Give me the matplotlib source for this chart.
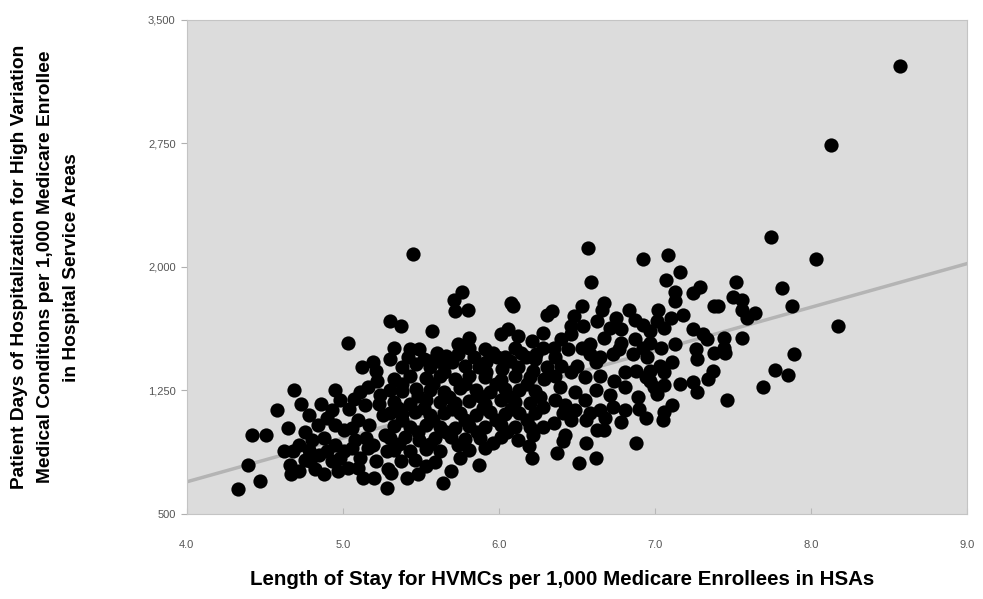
import matplotlib
matplotlib.use("Agg")
import matplotlib.pyplot as plt
from matplotlib.ticker import FuncFormatter

plt.rcParams['font.family'] = ['Liberation Sans Narrow', 'Liberation Sans', 'DejaVu Sans']

# --- data (length of stay, patient days) ---
outlier_x = [8.57, 8.13, 8.03, 7.74, 8.17, 7.88, 7.81, 7.52, 7.89, 7.77, 7.85, 7.69, 7.46]
outlier_y = [3220, 2740, 2050, 2180, 1640, 1760, 1870, 1910, 1470, 1375, 1345, 1270, 1190]

right_x = [7.50, 7.56, 7.56, 7.64, 7.59, 7.40, 7.44, 7.56, 7.44, 7.45, 7.24, 7.34, 7.27,
           7.11, 7.06, 7.05, 6.94, 6.88, 6.97, 7.01, 7.06, 7.33]
right_y = [1820, 1800, 1740, 1720, 1690, 1760, 1570, 1570, 1510, 1480, 1300, 1320, 1240,
           1160, 1120, 1070, 1080, 930, 1310, 1230, 1360, 1560]

upper_mid_x = [6.57, 6.92, 7.08, 7.16, 7.07, 6.59, 7.29, 7.24, 7.13, 7.13, 7.38, 6.34, 6.53,
               6.67, 6.66, 6.83, 7.02, 7.18, 7.10, 7.06, 7.01, 6.87, 6.92, 6.46, 6.54, 6.63,
               6.71, 6.46, 6.67, 7.24, 7.31, 6.78, 6.87, 6.53, 7.04, 6.35, 6.36, 6.92, 6.86,
               7.26, 7.27, 7.38, 6.65, 6.73, 6.50, 6.62, 7.03, 7.11, 6.88, 7.37,
               6.40, 6.44, 6.58, 6.77, 6.95, 6.48, 6.75, 6.40]
upper_mid_y = [2115, 2050, 2070, 1970, 1920, 1910, 1880, 1840, 1850, 1790, 1760, 1730, 1760,
               1780, 1740, 1740, 1740, 1710, 1690, 1630, 1670, 1680, 1650, 1640, 1640, 1670,
               1630, 1590, 1570, 1620, 1590, 1540, 1560, 1510, 1510, 1510, 1450, 1510, 1470,
               1500, 1440, 1480, 1450, 1470, 1400, 1420, 1400, 1420, 1370, 1370,
               1560, 1500, 1470, 1500, 1450, 1700, 1690, 1400]

lower_mid_x = [6.42, 6.41, 6.37, 6.56, 6.51, 6.62, 6.63, 6.67, 6.73, 6.58, 6.56, 6.41, 6.35,
               6.89, 6.99, 6.36, 6.46, 6.55, 6.65, 6.74, 6.81, 6.94, 6.39, 6.49, 6.62, 6.71,
               6.81, 6.36, 6.55, 6.97, 6.42, 6.49, 6.65, 6.81, 6.90, 6.46, 6.68, 6.78, 7.06,
               7.16, 6.58, 6.97, 7.13, 6.78, 6.97]
lower_mid_y = [980, 940, 870, 930, 810, 840, 1010, 1010, 1150, 1110, 1070, 1110, 1050,
               1210, 1270, 1340, 1360, 1330, 1340, 1310, 1360, 1330, 1270, 1240, 1250, 1220,
               1270, 1190, 1190, 1370, 1160, 1130, 1130, 1130, 1140, 1070, 1080, 1060, 1280,
               1290, 1530, 1540, 1530, 1620, 1610]

center_x = [5.45, 5.76, 5.71, 5.72, 5.80, 6.08, 6.09, 5.30, 5.37, 5.57, 5.81, 5.74, 6.01,
            6.06, 6.12, 6.21, 6.28, 6.31, 5.49, 5.60, 5.38, 5.47, 5.70, 5.78, 5.87, 5.99,
            6.04, 6.17, 6.28, 6.31, 6.12, 5.92, 5.65, 5.56, 5.33, 5.43, 5.81, 5.91, 6.10,
            5.30, 5.56, 6.07, 6.23, 5.03, 5.19, 5.12, 5.21,
            5.66, 5.84, 5.96, 6.14, 6.24, 5.74, 5.92, 6.02, 6.22, 5.42, 5.52, 5.63]
center_y = [2080, 1850, 1800, 1730, 1740, 1780, 1760, 1670, 1640, 1610, 1570, 1530, 1590,
            1620, 1580, 1550, 1600, 1710, 1500, 1480, 1390, 1410, 1420, 1400, 1390, 1450,
            1450, 1450, 1510, 1390, 1390, 1420, 1360, 1390, 1510, 1500, 1510, 1500, 1510,
            1440, 1430, 1430, 1440, 1540, 1420, 1390, 1370,
            1460, 1450, 1480, 1480, 1470, 1470, 1360, 1380, 1370, 1450, 1440, 1420]

left_x = [4.69, 4.73, 4.58, 4.95, 4.42, 4.51, 4.65, 4.62, 4.39, 4.47, 4.33, 4.67, 5.13, 5.28,
          4.72, 4.76, 4.72, 4.80, 4.84, 4.90, 4.88, 4.85, 4.82, 4.95, 4.93, 5.01, 5.01, 5.03,
          5.08, 5.11, 5.10, 5.04, 5.14, 5.17, 5.19, 5.21, 5.24, 5.26, 5.27, 5.28, 5.29, 5.16,
          5.11, 5.22,
          4.78, 4.93, 4.98, 4.76, 4.95, 5.06, 4.68, 4.78, 4.90, 5.06, 5.15, 4.66, 4.79, 4.98,
          5.16, 4.88, 4.97, 5.10, 5.20, 5.07, 5.23, 4.86]
left_y = [1250, 1170, 1130, 1250, 980, 980, 1020, 880, 800, 700, 650, 740, 720, 660,
          920, 830, 760, 950, 1040, 1080, 960, 860, 770, 920, 820, 1010, 880, 780,
          950, 840, 1070, 1140, 1160, 1040, 920, 820, 1220, 1100, 980, 880, 770, 1270,
          1240, 1310,
          1100, 1130, 1190, 1000, 1040, 1020, 880, 890, 880, 900, 960, 800, 820, 840,
          900, 740, 760, 780, 720, 1200, 1170, 1170]

bottom_x = [6.21, 5.87, 5.75, 5.69, 5.64, 5.41, 5.48, 5.31, 5.53, 5.91, 6.12, 6.19, 6.28]
bottom_y = [840, 800, 840, 760, 690, 720, 740, 750, 790, 900, 950, 910, 1030]

core_x = [5.33, 5.43, 5.53, 5.62, 5.72, 5.81, 5.91, 6.01, 6.10, 6.20, 6.29,
          5.30, 5.38, 5.47, 5.56, 5.65, 5.75, 5.85, 5.94, 6.04, 6.13, 6.23,
          5.33, 5.43, 5.53, 5.62, 5.72, 5.81, 5.91, 6.01, 6.10, 6.20,
          5.30, 5.38, 5.46, 5.56, 5.65, 5.75, 5.85, 5.94, 6.04, 6.13, 6.23,
          5.33, 5.43, 5.53, 5.62, 5.72, 5.81, 5.91, 6.01, 6.10, 6.20,
          5.30, 5.40, 5.49, 5.59, 5.69, 5.78, 5.88, 6.01,
          5.33, 5.43, 5.53, 5.62, 5.81,
          5.37, 5.46, 5.59,
          5.38, 5.58, 5.78, 5.98, 6.18, 5.48, 5.68, 5.88, 6.06, 6.26,
          5.35, 5.52, 5.70, 5.90, 6.08, 6.28, 5.38, 5.58, 5.78, 5.98, 6.18,
          5.48, 5.66, 5.86, 6.05, 6.22, 5.36, 5.56, 5.74, 5.96]
core_y = [1320, 1340, 1325, 1335, 1320, 1340, 1330, 1315, 1340, 1330, 1320,
          1255, 1245, 1260, 1250, 1240, 1265, 1250, 1240, 1260, 1250, 1245,
          1180, 1170, 1190, 1180, 1175, 1185, 1170, 1190, 1180, 1175,
          1110, 1105, 1120, 1100, 1115, 1110, 1100, 1120, 1105, 1110, 1115,
          1035, 1025, 1040, 1030, 1020, 1035, 1030, 1040, 1025, 1030,
          960, 965, 950, 960, 970, 955, 960, 965,
          890, 880, 895, 885, 890,
          820, 825, 815,
          1290, 1290, 1290, 1290, 1290, 1215, 1210, 1215, 1215, 1210,
          1145, 1145, 1140, 1145, 1140, 1150, 1070, 1070, 1070, 1070, 1070,
          995, 995, 995, 995, 980, 925, 925, 920, 930]

# trend line end points
trend_x = [4.0, 9.0]
trend_y = [695, 2020]

xs = outlier_x + right_x + upper_mid_x + lower_mid_x + center_x + left_x + bottom_x + core_x
ys = outlier_y + right_y + upper_mid_y + lower_mid_y + center_y + left_y + bottom_y + core_y

fig = plt.figure(figsize=(9.83, 5.99), dpi=100)
ax = fig.add_axes([0.190, 0.142, 0.794, 0.825])
ax.set_facecolor('#dcdcdc')

ax.plot(trend_x, trend_y, color='#b4b4b4', lw=2.5, zorder=1)
ax.scatter(xs, ys, s=105, color='black', linewidths=0, zorder=2)

ax.set_xlim(4.0, 9.0)
ax.set_ylim(500, 3500)
ax.set_xticks([4.0, 5.0, 6.0, 7.0, 8.0, 9.0])
ax.set_yticks([500, 1250, 2000, 2750, 3500])
ax.xaxis.set_major_formatter(FuncFormatter(lambda v, p: f'{v:.1f}'))
ax.yaxis.set_major_formatter(FuncFormatter(lambda v, p: f'{int(v):,}'))

for s in ax.spines.values():
    s.set_color('#c4c4c4')
    s.set_linewidth(0.8)

ax.tick_params(axis='y', direction='out', length=4, color='#b0b0b0', labelsize=8,
               labelcolor='#555555', pad=4)
ax.tick_params(axis='x', direction='in', length=4, color='#b8b8b8', labelsize=8,
               labelcolor='#555555', pad=19)

fig.text(0.572, 0.032, 'Length of Stay for HVMCs per 1,000 Medicare Enrollees in HSAs',
         ha='center', va='center', fontsize=14.8, fontweight='bold')
fig.text(0.046, 0.554,
         'Patient Days of Hospitalization for High Variation\n'
         'Medical Conditions per 1,000 Medicare Enrollee\n'
         'in Hospital Service Areas',
         ha='center', va='center', rotation=90, fontsize=13.8, fontweight='bold',
         linespacing=1.7, multialignment='center')

fig.savefig('out.png', dpi=100)
